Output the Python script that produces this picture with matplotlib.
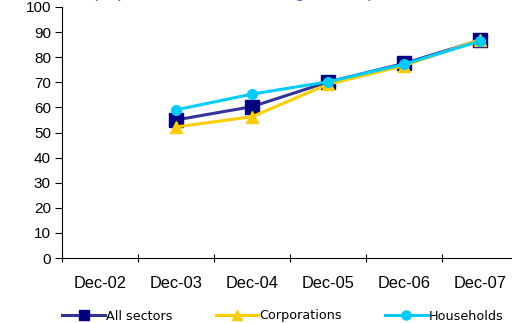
import matplotlib
matplotlib.use("Agg")
import matplotlib.pyplot as plt
from matplotlib.lines import Line2D

plt.rcParams['font.family'] = ['Liberation Sans', 'DejaVu Sans']

categories = ["Dec-02", "Dec-03", "Dec-04", "Dec-05", "Dec-06", "Dec-07"]
all_sectors = [None, 55.0, 60.3, 70.1, 77.5, 86.8]
corporations = [None, 52.2, 56.3, 69.2, 76.6, 87.0]
households = [None, 59.0, 65.3, 70.2, 77.2, 86.4]
yticks = list(range(0, 101, 10))

fig = plt.figure(figsize=(5.12, 3.23), dpi=100)
ax = fig.add_axes([62/512, 1-258/323, 456/512, 251/323])

x = list(range(len(categories)))

def pts(vals):
    xs = [i for i, v in zip(x, vals) if v is not None]
    ys = [v for v in vals if v is not None]
    return xs, ys

xs, ys = pts(all_sectors)
ax.plot(xs, ys, color='#333399', lw=2.2, marker='s', ms=10, mfc='#000080', mec='#000080', zorder=3, clip_on=False)
xs, ys = pts(corporations)
ax.plot(xs, ys, color='#FFCC00', lw=2.2, marker='^', ms=8, mfc='#FFCC00', mec='#FFCC00', zorder=4, clip_on=False)
xs, ys = pts(households)
ax.plot(xs, ys, color='#00CCFF', lw=2.2, marker='o', ms=7, mfc='#00CCFF', mec='#00CCFF', zorder=5, clip_on=False)

ax.set_xlim(-0.5, len(categories) - 0.5)
ax.set_ylim(0, 100)
ax.set_yticks(yticks)
ax.set_yticklabels([str(v) for v in yticks], fontsize=11)
ax.set_xticks([i - 0.5 for i in range(len(categories) + 1)])
ax.set_xticklabels([])
ax.tick_params(axis='x', length=6, direction='inout', width=0.8)
ax.tick_params(axis='y', length=5, direction='out', width=0.8, pad=3)
for i, c in enumerate(categories):
    ax.text(i, -10.3, c, ha='center', va='center', fontsize=11.8, transform=ax.transData, clip_on=False)

for s in ['top', 'right']:
    ax.spines[s].set_visible(False)
ax.spines['left'].set_linewidth(0.8)
ax.spines['bottom'].set_linewidth(0.8)

fig.text(92/512, 1 + 3/323, "(in per cent of total lending volume)", color='#5B5BBF', fontsize=13,
         va='baseline', ha='left')

handles = [
    Line2D([], [], color='#333399', lw=2.2, marker='s', ms=7, mfc='#000080', mec='#000080'),
    Line2D([], [], color='#FFCC00', lw=2.2, marker='^', ms=7, mfc='#FFCC00', mec='#FFCC00'),
    Line2D([], [], color='#00CCFF', lw=2.2, marker='o', ms=6.5, mfc='#00CCFF', mec='#00CCFF'),
]
labels = ["All sectors", "Corporations", "Households"]
leg = fig.legend(handles, labels, loc='center', bbox_to_anchor=(283/512, 1 - 316/323), ncol=3,
                 frameon=False, prop={'family': 'DejaVu Sans', 'size': 9.2},
                 handlelength=3.3, handletextpad=0.1, columnspacing=3.4)

fig.savefig("out.png", dpi=100)
